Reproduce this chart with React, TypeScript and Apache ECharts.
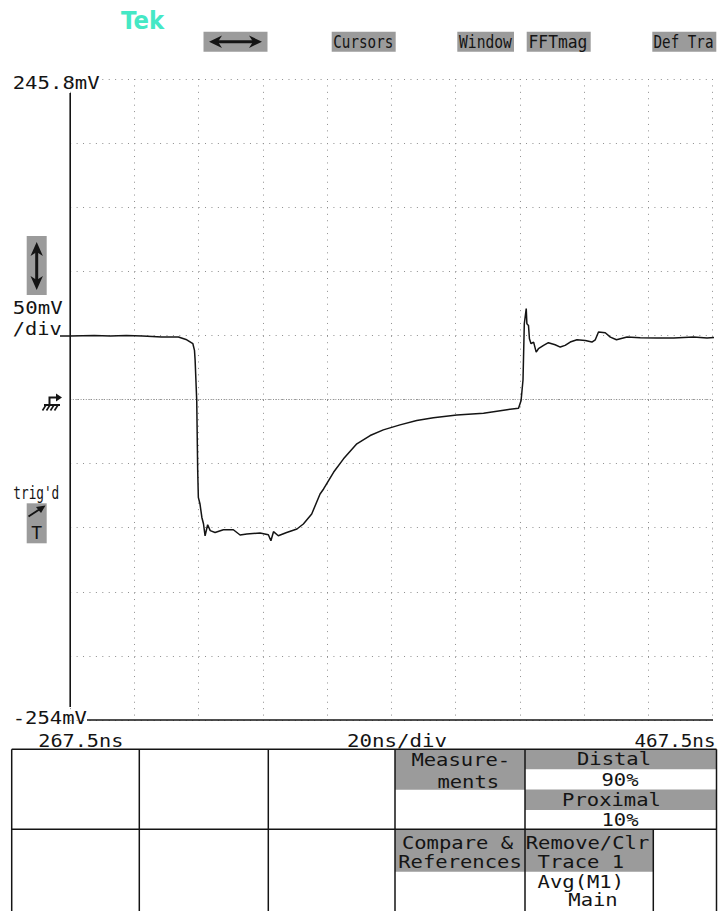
import React, { useEffect, useRef } from "react";
import * as echarts from "echarts";

// ---- scope settings ----
const T_START = 267.5; // ns
const T_DIV = 20; // ns/div
const V_TOP = 245.8; // mV
const V_DIV = 50; // mV/div
const V_BOTTOM = V_TOP - 10 * V_DIV;
const GROUND_MV = V_TOP - 5 * V_DIV;

// ---- trace ----
const TIME_NS = [
  267.5, 275.0, 280.0, 285.0, 290.0, 296.0, 301.2, 303.8, 305.7, 306.2, 306.4, 306.9, 307.2, 307.4,
  307.9, 308.5, 309.0, 309.5, 310.3, 311.1, 312.6, 315.2, 318.3, 320.4, 322.5, 326.6, 329.2,
  330.0, 330.8, 332.3, 334.9, 338.1, 340.1, 342.7, 345.3, 346.4, 349.5, 352.6, 356.75, 360.9,
  365.0, 370.2, 375.4, 380.6, 387.9, 396.2, 403.5, 407.1, 407.9, 408.5, 408.9, 409.5, 409.7,
  410.2, 410.5, 411.0, 411.8, 412.6, 413.3, 414.9, 416.4, 418.5, 420.1, 421.6, 423.2, 425.3,
  427.9, 429.95, 431.0, 432.0, 434.1, 435.7, 437.6, 438.8, 440.9, 445.0, 450.2, 455.4, 461.6,
  465.8, 469.4,
];
const VOLT_MV = [
  45.4, 45.8, 45.3, 45.8, 45.4, 44.5, 44.5, 42.4, 39.3, 34.1, 26.3, -5.0, -59.7, -80.5,
  -85.5, -96.2, -101.1, -110.5, -101.9, -106.5, -107.9, -105.8, -105.8, -109.9, -109.1, -108.3, -109.7,
  -114.4, -107.3, -110.5, -107.9, -105.2, -101.3, -93.5, -77.9, -74.0, -61.0, -50.5, -38.8, -32.3,
  -27.9, -24.0, -20.6, -18.5, -16.2, -14.9, -12.2, -11.0, -5.0, 11.2, 54.9, 66.7, 54.9,
  53.6, 43.2, 39.3, 40.6, 32.8, 35.4, 38.0, 40.1, 38.5, 36.7, 38.0, 40.6, 42.4,
  41.9, 40.6, 42.4, 48.4, 47.9, 44.5, 42.4, 43.2, 44.5, 44.0, 43.7, 43.7, 44.5,
  43.7, 44.5,
];

// ---- texts ----
const TOP_MENU = ["Cursors", "Window", "FFTmag", "Def Tra"];
const Y_LABELS = ["245.8mV", "-254mV"];
const SCALE_LABEL = ["50mV", "/div"];
const TRIG_LABEL = ["trig'd", "T"];
const X_LABELS = ["267.5ns", "20ns/div", "467.5ns"];
const MEAS_MENU = ["Measure-", "ments", "Distal", "90%", "Proximal", "10%"];
const REF_MENU = ["Compare &", "References", "Remove/Clr", "Trace 1", "Avg(M1)", "Main"];

const MONO = "'DejaVu Sans Mono', monospace";
const INK = "#141414";
const BTN = "#9b9b9b";
const GRID = "#8e8e8e";

function txt(
  text: string,
  x: number,
  y: number,
  o: { size?: number; sx?: number; width?: number; align?: string; fill?: string; font?: string } = {}
) {
  const size = o.size ?? 18;
  let sx = o.sx ?? 1.14;
  if (o.width) sx = o.width / (text.length * 0.602 * size);
  return {
    type: "text",
    x,
    y,
    scaleX: sx,
    silent: true,
    z: 20,
    style: {
      text,
      font: o.font ?? `${size}px ${MONO}`,
      fill: o.fill ?? INK,
      align: o.align ?? "left",
      verticalAlign: "middle",
    },
  };
}

function rect(x: number, y: number, w: number, h: number, fill = BTN) {
  return { type: "rect", silent: true, z: 10, shape: { x, y, width: w, height: h }, style: { fill } };
}

function seg(x1: number, y1: number, x2: number, y2: number, w = 1.5, color = INK) {
  return {
    type: "line",
    silent: true,
    z: 15,
    shape: { x1, y1, x2, y2 },
    style: { stroke: color, lineWidth: w },
  };
}

function poly(points: number[][], color = INK) {
  return { type: "polygon", silent: true, z: 16, shape: { points }, style: { fill: color } };
}

function pline(points: number[][], w = 2, color = INK) {
  return { type: "polyline", silent: true, z: 16, shape: { points }, style: { stroke: color, lineWidth: w, fill: "none" } };
}

function buildGraphics() {
  const g: any[] = [];
  // Tek logo
  g.push(txt("Tek", 121, 21, { font: "bold 24px 'DejaVu Sans', sans-serif", fill: "#45e8c5", sx: 0.95 }));

  // top menu buttons
  const btns = [
    { x: 203.5, w: 64 },
    { x: 331.7, w: 64 },
    { x: 457.3, w: 56.7 },
    { x: 526.7, w: 64 },
    { x: 652.3, w: 64 },
  ];
  btns.forEach((b) => g.push(rect(b.x, 31.7, b.w, 20)));
  // horizontal double arrow
  g.push(seg(215, 41.7, 256, 41.7, 3));
  g.push(poly([[209, 41.7], [222, 35.5], [218, 41.7], [222, 48]]));
  g.push(poly([[262, 41.7], [249, 35.5], [253, 41.7], [249, 48]]));
  const menuPos = [
    { x: 333.3, w: 60 },
    { x: 459, w: 53 },
    { x: 528.5, w: 59 },
    { x: 653.5, w: 60 },
  ];
  TOP_MENU.forEach((t, i) => g.push(txt(t, menuPos[i].x, 42.2, { width: menuPos[i].w })));

  // left labels
  g.push(txt(Y_LABELS[0], 12.7, 83, { width: 87 }));
  g.push(txt(Y_LABELS[1], 12.7, 718, { width: 74.3 }));

  // vertical double arrow box
  g.push(rect(26.7, 236, 20, 59));
  g.push(seg(36.7, 250, 36.7, 282, 3));
  g.push(poly([[36.7, 242], [30.5, 256], [36.7, 252], [42.9, 256]]));
  g.push(poly([[36.7, 290], [30.5, 276], [36.7, 280], [42.9, 276]]));

  // 50mV /div
  g.push(txt(SCALE_LABEL[0], 12.7, 307.5, { width: 50 }));
  g.push(txt(SCALE_LABEL[1], 12.7, 328.5, { width: 49 }));
  g.push(seg(60, 336, 71, 336, 1.5));

  // ground symbol
  g.push(pline([[49.5, 405], [49.5, 397.5], [57, 397.5]], 2));
  g.push(poly([[56, 393.5], [62, 397.5], [56, 401.5]]));
  g.push(seg(44, 405, 60, 405, 2));
  [46, 50, 54, 58].forEach((x) => g.push(seg(x, 405, x - 3.5, 410.5, 1.6)));

  // trig'd + T box
  g.push(txt(TRIG_LABEL[0], 13.3, 493, { width: 46 }));
  g.push(rect(26.7, 503.3, 20, 40));
  g.push(seg(28.5, 516.5, 40, 509, 2));
  g.push(poly([[45.5, 505.5], [36, 507], [41, 513]]));
  g.push(txt(TRIG_LABEL[1], 36.7, 532.5, { align: "center", sx: 1 }));

  // axes lines
  g.push(seg(70.2, 93, 70.2, 707, 1.6));
  g.push(seg(87, 720, 713, 720, 1.6));

  // time labels
  g.push(txt(X_LABELS[0], 38.3, 740.5, { width: 85 }));
  g.push(txt(X_LABELS[1], 347, 740.5, { width: 100 }));
  g.push(txt(X_LABELS[2], 715.5, 740.5, { width: 81, align: "right" }));

  // bottom table
  g.push(rect(395, 749.3, 130, 40.5));
  g.push(rect(525, 749.3, 191, 20));
  g.push(rect(525, 789.5, 191, 20.5));
  g.push(rect(395, 829.3, 130, 42.4));
  g.push(rect(525, 829.3, 128.3, 42.4));
  g.push(seg(11.7, 749.3, 716.5, 749.3));
  g.push(seg(11.7, 829.3, 716.5, 829.3));
  [11.7, 139.3, 268.3, 395, 525, 716.5].forEach((x) => g.push(seg(x, 749.3, x, 912)));
  g.push(seg(653.3, 829.3, 653.3, 912));

  const mx = [460.8, 468.3, 614, 620, 611.5, 620];
  const my = [760, 781.5, 759.3, 779.5, 800, 820];
  MEAS_MENU.forEach((t, i) => g.push(txt(t, mx[i], my[i], { align: "center" })));
  const rx = [457.5, 460, 587.5, 580.8, 580.8, 593];
  const ry = [842.7, 861.7, 842.7, 861.7, 881.7, 900.3];
  REF_MENU.forEach((t, i) => g.push(txt(t, rx[i], ry[i], { align: "center" })));
  return g;
}

export default function App() {
  const ref = useRef<HTMLDivElement>(null);
  useEffect(() => {
    if (!ref.current) return;
    const chart = echarts.init(ref.current, undefined, { renderer: "svg" });
    const data = TIME_NS.map((t, i) => [t - T_START, VOLT_MV[i] - V_BOTTOM]);
    const gridLine = { show: true, lineStyle: { color: GRID, width: 1, type: [1, 5.42] } };
    chart.setOption({
      animation: false,
      backgroundColor: "#ffffff",
      grid: { left: 70.2, top: 79, width: 642.3, height: 641 },
      xAxis: {
        type: "value",
        min: 0,
        max: 10 * T_DIV,
        interval: T_DIV,
        axisLine: { show: false },
        axisTick: { show: false },
        axisLabel: { show: false },
        splitLine: gridLine,
      },
      yAxis: {
        type: "value",
        min: 0,
        max: 10 * V_DIV,
        interval: V_DIV,
        axisLine: { show: false },
        axisTick: { show: false },
        axisLabel: { show: false },
        splitLine: gridLine,
      },
      series: [
        {
          type: "line",
          data,
          symbol: "none",
          showSymbol: false,
          clip: false,
          silent: true,
          z: 5,
          lineStyle: { color: INK, width: 1.5 },
          markLine: {
            silent: true,
            symbol: ["none", "none"],
            label: { show: false },
            lineStyle: { color: GRID, width: 1, type: [1, 1.6] },
            data: [{ yAxis: GROUND_MV - V_BOTTOM }],
          },
        },
      ],
      graphic: buildGraphics(),
    });
    return () => chart.dispose();
  }, []);
  return (
    <div
      ref={ref}
      style={{ position: "absolute", left: 0, top: 0, width: 719, height: 911, background: "#fff" }}
    />
  );
}
